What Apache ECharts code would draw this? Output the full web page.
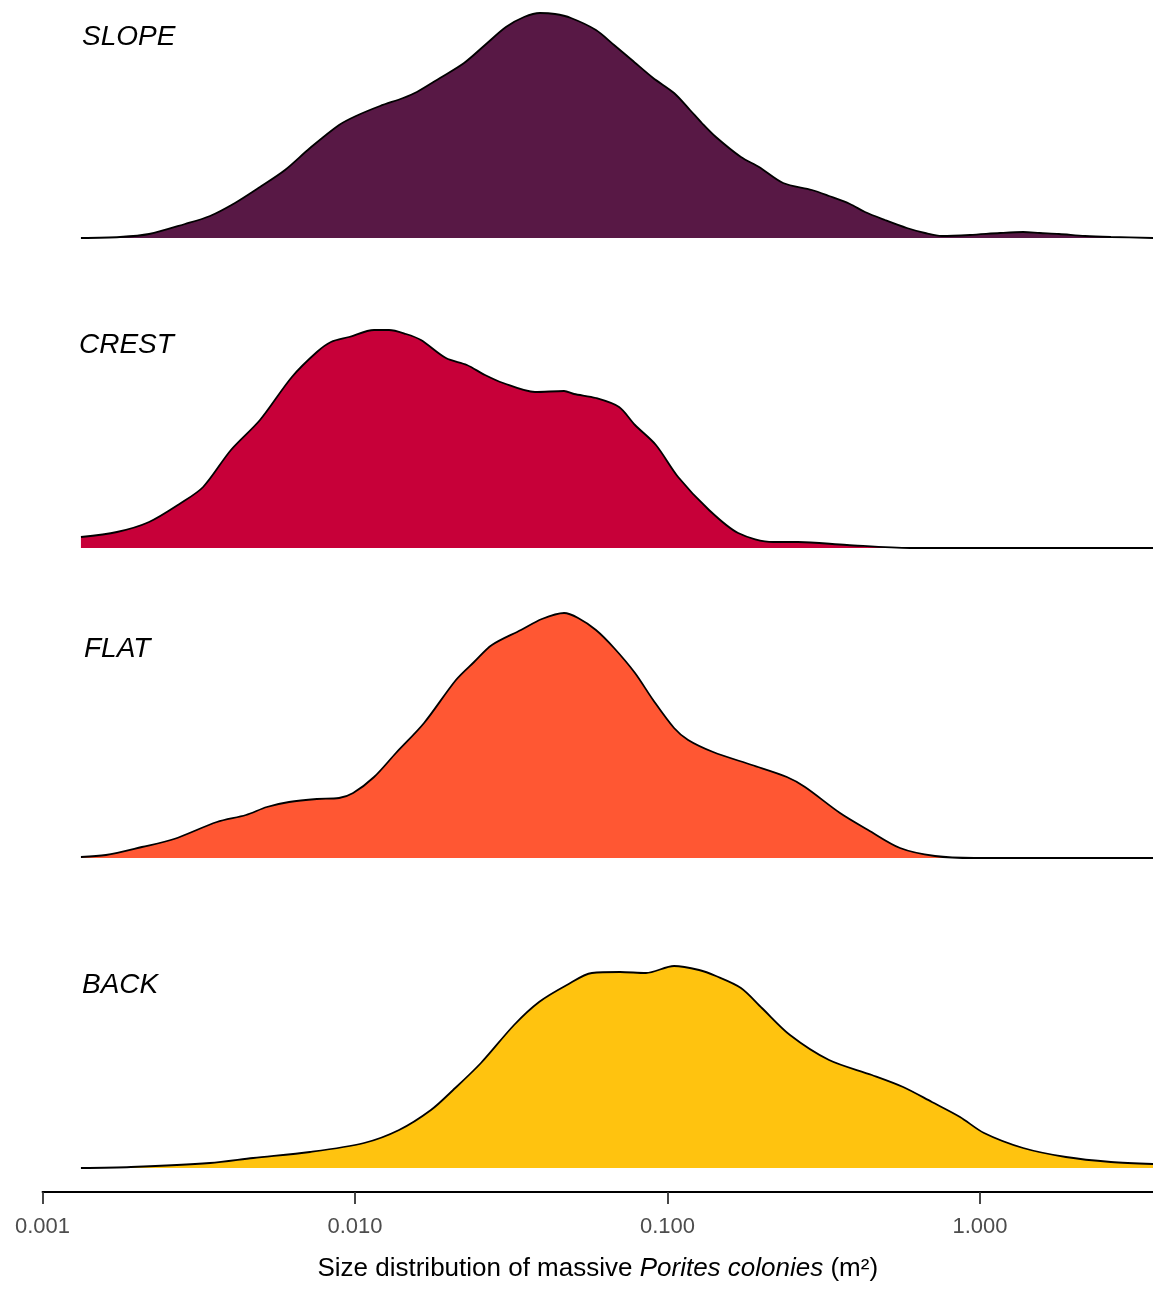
<!DOCTYPE html>
<html>
<head>
<meta charset="utf-8">
<script src="https://cdn.jsdelivr.net/npm/echarts@6/dist/echarts.min.js"></script>
<style>
  html, body { margin: 0; padding: 0; background: #ffffff; }
  #chart { width: 1153px; height: 1293px; }
</style>
</head>
<body>
<div id="chart"></div>
<script>
// Reef zones, top to bottom, with their fill colours
const zones = ['SLOPE', 'CREST', 'FLAT', 'BACK'];
const zoneColors = ['#581845', '#C70039', '#FF5733', '#FFC30F'];

// x axis: log10 of colony area (m²); ticks and their labels
const tickValues = [-3, -2, -1, 0];
const tickLabels = ['0.001', '0.010', '0.100', '1.000'];
const axisMinLog = -3;
const axisMaxLog = 0.5536;

// Density curves: log10(colony area) and scaled density
const slopeLogArea = [-2.877, -2.752, -2.659, -2.544, -2.464, -2.384, -2.304, -2.224, -2.144, -2.051, -1.997, -1.920, -1.846, -1.802, -1.728, -1.651, -1.584, -1.517, -1.459, -1.408, -1.360, -1.309, -1.229, -1.171, -1.114, -1.046, -0.979, -0.928, -0.890, -0.845, -0.765, -0.707, -0.630, -0.538, -0.483, -0.416, -0.368, -0.304, -0.234, -0.176, -0.122, -0.032, 0.064, 0.138, 0.192, 0.253, 0.336, 0.419, 0.554];
const slopeDensity = [0.00, 0.01, 0.04, 0.14, 0.22, 0.35, 0.51, 0.68, 0.90, 1.13, 1.22, 1.32, 1.40, 1.46, 1.60, 1.75, 1.93, 2.11, 2.21, 2.25, 2.24, 2.20, 2.08, 1.93, 1.78, 1.60, 1.45, 1.28, 1.15, 1.01, 0.81, 0.71, 0.55, 0.48, 0.42, 0.34, 0.26, 0.18, 0.10, 0.05, 0.02, 0.03, 0.05, 0.06, 0.05, 0.04, 0.02, 0.01, 0.00];

const crestLogArea = [-2.877, -2.762, -2.659, -2.557, -2.486, -2.397, -2.304, -2.202, -2.122, -2.077, -2.019, -1.939, -1.891, -1.837, -1.789, -1.709, -1.642, -1.584, -1.526, -1.424, -1.331, -1.299, -1.229, -1.155, -1.104, -1.037, -0.966, -0.867, -0.774, -0.662, -0.582, -0.426, -0.224, 0.554];
const crestDensity = [0.11, 0.16, 0.26, 0.45, 0.61, 0.98, 1.28, 1.71, 1.96, 2.06, 2.11, 2.18, 2.18, 2.14, 2.08, 1.90, 1.83, 1.73, 1.65, 1.56, 1.57, 1.54, 1.50, 1.41, 1.23, 1.03, 0.71, 0.38, 0.15, 0.06, 0.06, 0.03, 0.00, 0.00];

const flatLogArea = [-2.877, -2.797, -2.682, -2.579, -2.442, -2.349, -2.282, -2.211, -2.122, -2.051, -2.006, -1.939, -1.869, -1.779, -1.677, -1.619, -1.562, -1.469, -1.402, -1.331, -1.286, -1.229, -1.171, -1.104, -1.046, -0.979, -0.934, -0.854, -0.730, -0.618, -0.560, -0.448, -0.358, -0.256, -0.144, -0.019, 0.554];
const flatDensity = [0.01, 0.03, 0.11, 0.19, 0.36, 0.43, 0.51, 0.56, 0.59, 0.60, 0.65, 0.81, 1.05, 1.35, 1.78, 1.96, 2.13, 2.28, 2.39, 2.45, 2.40, 2.28, 2.10, 1.85, 1.58, 1.30, 1.18, 1.06, 0.93, 0.81, 0.71, 0.45, 0.28, 0.10, 0.02, 0.00, 0.00];

const backLogArea = [-2.877, -2.717, -2.464, -2.326, -2.144, -1.971, -1.859, -1.757, -1.686, -1.597, -1.491, -1.411, -1.322, -1.242, -1.152, -1.069, -0.979, -0.899, -0.845, -0.765, -0.698, -0.608, -0.483, -0.346, -0.246, -0.154, -0.064, 0.013, 0.138, 0.275, 0.419, 0.554];
const backDensity = [0.00, 0.01, 0.05, 0.10, 0.16, 0.25, 0.38, 0.58, 0.78, 1.05, 1.43, 1.66, 1.83, 1.95, 1.96, 1.95, 2.02, 1.98, 1.92, 1.80, 1.60, 1.33, 1.08, 0.93, 0.81, 0.66, 0.51, 0.35, 0.20, 0.11, 0.06, 0.04];

const curves = [
  [slopeLogArea, slopeDensity],
  [crestLogArea, crestDensity],
  [flatLogArea, flatDensity],
  [backLogArea, backDensity]
];

// Layout of the ridges
const firstBaseline = 238;
const ridgeSpacing = 310;
const panelHeight = 230;
const panelMax = 2.3;
const labelPos = [[82, 23], [79, 331], [84, 635], [82, 971]];
const fontFamily = '"Liberation Sans", Arial, Helvetica, sans-serif';

const chart = echarts.init(document.getElementById('chart'), null, { renderer: 'canvas' });

const grids = zones.map((z, i) => ({
  left: 42.5,
  right: 0,
  top: firstBaseline + i * ridgeSpacing - panelHeight,
  height: panelHeight
}));

const xAxes = zones.map((z, i) => {
  const last = i === zones.length - 1;
  const ax = {
    type: 'value',
    gridIndex: i,
    min: axisMinLog,
    max: axisMaxLog,
    show: last,
    position: 'bottom',
    splitLine: { show: false }
  };
  if (last) {
    Object.assign(ax, {
      offset: 24,
      axisLine: { show: true, onZero: false, lineStyle: { color: '#000000', width: 1.8 } },
      axisTick: { show: true, customValues: tickValues, length: 12, lineStyle: { color: '#333333', width: 1.8 } },
      axisLabel: {
        show: true,
        customValues: tickValues,
        formatter: v => tickLabels[tickValues.indexOf(v)],
        color: '#4D4D4D',
        fontSize: 22,
        fontFamily: fontFamily,
        margin: 24
      },
      name: '{n|Size distribution of massive }{i|Porites colonies}{n| (m²)}',
      nameLocation: 'middle',
      nameGap: 62,
      nameTextStyle: {
        rich: {
          n: { fontSize: 26, color: '#000000', fontFamily: fontFamily, lineHeight: 30 },
          i: { fontSize: 26, color: '#000000', fontStyle: 'italic', fontFamily: fontFamily, lineHeight: 30 }
        }
      }
    });
  }
  return ax;
});

const yAxes = zones.map((z, i) => ({
  type: 'value',
  gridIndex: i,
  min: 0,
  max: panelMax,
  show: false
}));

const series = zones.map((z, i) => ({
  name: z,
  type: 'line',
  xAxisIndex: i,
  yAxisIndex: i,
  data: curves[i][0].map((x, k) => [x, curves[i][1][k]]),
  smooth: 0.3,
  symbol: 'none',
  clip: false,
  lineStyle: { color: '#000000', width: 1.8 },
  areaStyle: { color: zoneColors[i], opacity: 1 },
  z: 2 + i
}));

const graphic = zones.map((z, i) => ({
  type: 'text',
  left: labelPos[i][0],
  top: labelPos[i][1],
  style: {
    text: z,
    font: 'italic 28px ' + fontFamily,
    fill: '#000000'
  }
}));

chart.setOption({
  backgroundColor: '#ffffff',
  animation: false,
  grid: grids,
  xAxis: xAxes,
  yAxis: yAxes,
  series: series,
  graphic: graphic
});
</script>
</body>
</html>
